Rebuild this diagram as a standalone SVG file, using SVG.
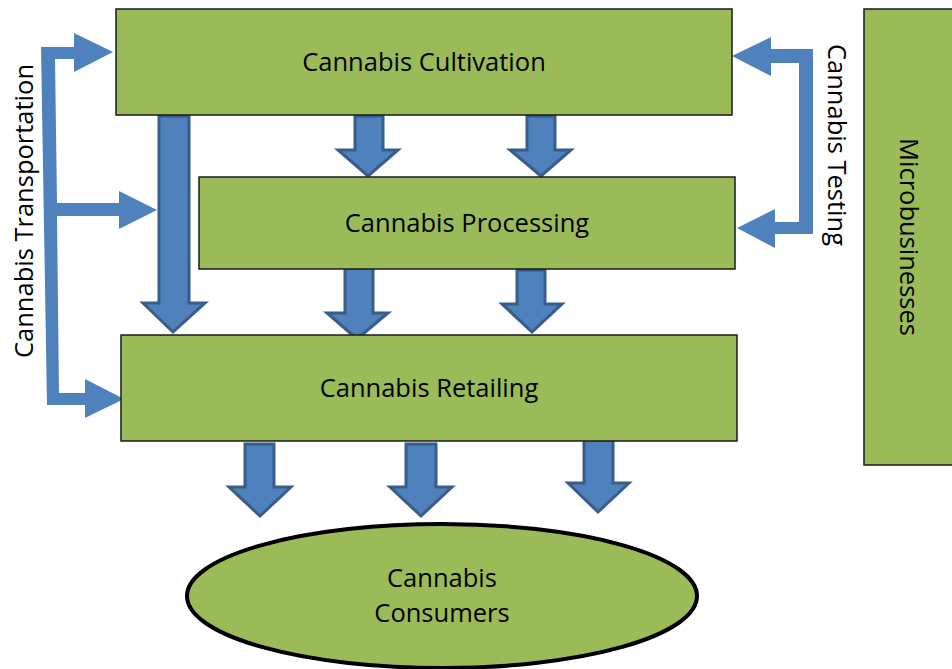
<svg xmlns="http://www.w3.org/2000/svg" width="952" height="669" viewBox="0 0 952 669">
<style>
.box{fill:#9BBB59;stroke:#1a1a1a;stroke-width:1.5}
.lbl{font-family:"Open Sans","Liberation Sans",Arial,sans-serif;font-size:25.5px;fill:#000;text-anchor:middle}
.blk{fill:#4F81BD;stroke:#385D8A;stroke-width:3;stroke-linejoin:miter}
.brk{fill:#4F81BD}
</style>
<rect width="952" height="669" fill="#fff"/>
<g id="connectors">
<polygon class="brk" points="41,47 74,47 74,33 113,52 74,72 74,59 55,59 57,203 119,203 119,191 157,210 119,229 119,216 57,216 59,393 85,393 85,379 124,399 85,418 85,405 47,405"/>
<polygon class="brk" points="813,49 813,234 775,234 775,248 737,228 775,209 775,222 799,222 799,63 771,63 771,76 732,56 771,37 771,49"/>
<polygon class="blk" points="159,116 189,116 189,303 205,303 173,332 143,303 159,303"/>
<polygon class="blk" points="355,116 383,116 383,150 398,150 368,176 338,150 355,150"/>
<polygon class="blk" points="527,116 555,116 555,150 571,150 541,176 510,150 527,150"/>
<polygon class="blk" points="345,268 373,268 373,313 388,313 357,339 327,313 345,313"/>
<polygon class="blk" points="517,270 545,270 545,304 562,304 532,332 502,304 517,304"/>
<polygon class="blk" points="245,444 274,444 274,487 291,487 260,516 229,487 245,487"/>
<polygon class="blk" points="406,444 436,444 436,487 452,487 421,516 390,487 406,487"/>
<polygon class="blk" points="584,440 613,440 613,483 629,483 598,512 568,483 584,483"/>
</g>
<g id="cultivation">
<rect class="box" x="116" y="9" width="616" height="106"/>
<text class="lbl" x="424" y="71">Cannabis Cultivation</text>
</g>
<g id="processing">
<rect class="box" x="199" y="177" width="536" height="92"/>
<text class="lbl" x="467" y="232">Cannabis Processing</text>
</g>
<g id="retailing">
<rect class="box" x="121" y="335" width="616" height="106"/>
<text class="lbl" x="429" y="397">Cannabis Retailing</text>
</g>
<g id="consumers">
<ellipse cx="442" cy="596" rx="255" ry="72" fill="#9BBB59" stroke="#000" stroke-width="4"/>
<text class="lbl" x="442" y="587">Cannabis</text>
<text class="lbl" x="442" y="622">Consumers</text>
</g>
<g id="microbusinesses">
<rect class="box" x="864" y="9" width="100" height="456"/>
<text class="lbl" transform="translate(900,237) rotate(90)">Microbusinesses</text>
</g>
<g id="transportation-label">
<text class="lbl" transform="translate(33,211) rotate(-90)">Cannabis Transportation</text>
</g>
<g id="testing-label">
<text class="lbl" transform="translate(828,145) rotate(90)">Cannabis Testing</text>
</g>
</svg>
